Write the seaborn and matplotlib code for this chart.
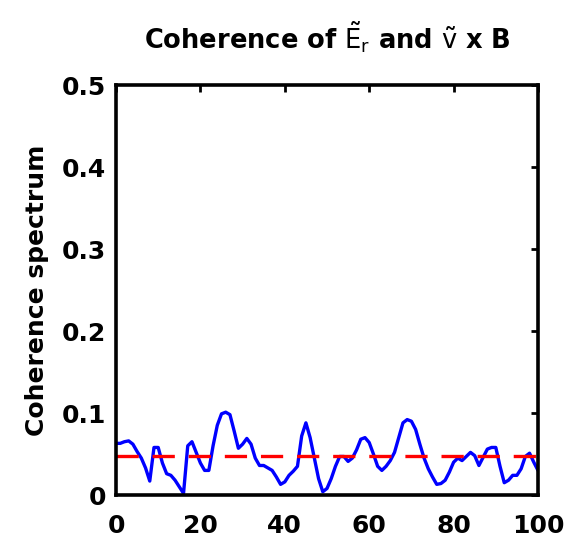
import numpy as np
import pandas as pd
import matplotlib
matplotlib.use("Agg")
import matplotlib.pyplot as plt
import seaborn as sns

# ---- data ----
freq = list(range(0, 101))
coherence = [
    0.063, 0.063, 0.065, 0.066, 0.062, 0.053, 0.045, 0.033, 0.017, 0.058,
    0.058, 0.039, 0.026, 0.024, 0.018, 0.010, 0.002, 0.060, 0.065, 0.052,
    0.039, 0.030, 0.030, 0.060, 0.085, 0.099, 0.101, 0.098, 0.078, 0.057,
    0.062, 0.069, 0.062, 0.045, 0.036, 0.036, 0.033, 0.030, 0.022, 0.013,
    0.016, 0.024, 0.029, 0.035, 0.072, 0.088, 0.070, 0.045, 0.020, 0.004,
    0.008, 0.020, 0.035, 0.047, 0.047, 0.041, 0.045, 0.055, 0.068, 0.070,
    0.064, 0.050, 0.035, 0.030, 0.035, 0.042, 0.052, 0.070, 0.088, 0.092,
    0.090, 0.080, 0.062, 0.045, 0.032, 0.022, 0.013, 0.014, 0.018, 0.028,
    0.040, 0.045, 0.042, 0.047, 0.052, 0.048, 0.036, 0.046, 0.056, 0.058,
    0.058, 0.035, 0.015, 0.018, 0.024, 0.024, 0.032, 0.047, 0.051, 0.040,
    0.030,
]
threshold_x = [0, 100]
threshold_y = [0.047, 0.047]
xticks = [0, 20, 40, 60, 80, 100]
yticks = [0, 0.1, 0.2, 0.3, 0.4, 0.5]
yticklabels = ["0", "0.1", "0.2", "0.3", "0.4", "0.5"]
title = r"Coherence of $\tilde{\mathrm{E}}_{\mathrm{r}}$ and $\tilde{\mathrm{v}}$ x B"
ylabel = "Coherence spectrum"

sns.set_style("white")
plt.rcParams["font.family"] = ["DejaVu Sans"]
plt.rcParams["lines.scale_dashes"] = False
plt.rcParams["text.color"] = "black"
plt.rcParams["axes.labelcolor"] = "black"
plt.rcParams["xtick.color"] = "black"
plt.rcParams["ytick.color"] = "black"
plt.rcParams["mathtext.default"] = "regular"

fig = plt.figure(figsize=(5.78, 5.38), dpi=100)
ax = fig.add_axes([0.2007, 0.0799, 0.7301, 0.7621])

df = pd.DataFrame({"f": freq, "c": coherence})
sns.lineplot(data=df, x="f", y="c", ax=ax, color=(0, 0, 1), linewidth=2.4)
dft = pd.DataFrame({"f": threshold_x, "c": threshold_y})
sns.lineplot(data=dft, x="f", y="c", ax=ax, color=(1, 0, 0), linewidth=2.4,
             dashes=False)
ax.lines[-1].set_dashes([16, 10])

ax.set_xlim(0, 100)
ax.set_ylim(0, 0.5)
ax.set_xticks(xticks)
ax.set_xticklabels([str(t) for t in xticks], fontsize=18, fontweight="bold")
ax.set_yticks(yticks)
ax.set_yticklabels(yticklabels, fontsize=18, fontweight="bold")
ax.tick_params(direction="in", length=5, width=2, top=True, right=True,
               colors="black")
ax.tick_params(axis="x", pad=14)
ax.tick_params(axis="y", pad=7)
for s in ax.spines.values():
    s.set_linewidth(2.6)
    s.set_color("black")
    s.set_visible(True)

ax.set_xlabel("")
ax.set_ylabel(ylabel, fontsize=18, fontweight="bold", labelpad=9)
ax.set_title(title, fontsize=18.5, color="black", fontweight="semibold", pad=26)

fig.savefig("out.png", dpi=100, facecolor="white")
